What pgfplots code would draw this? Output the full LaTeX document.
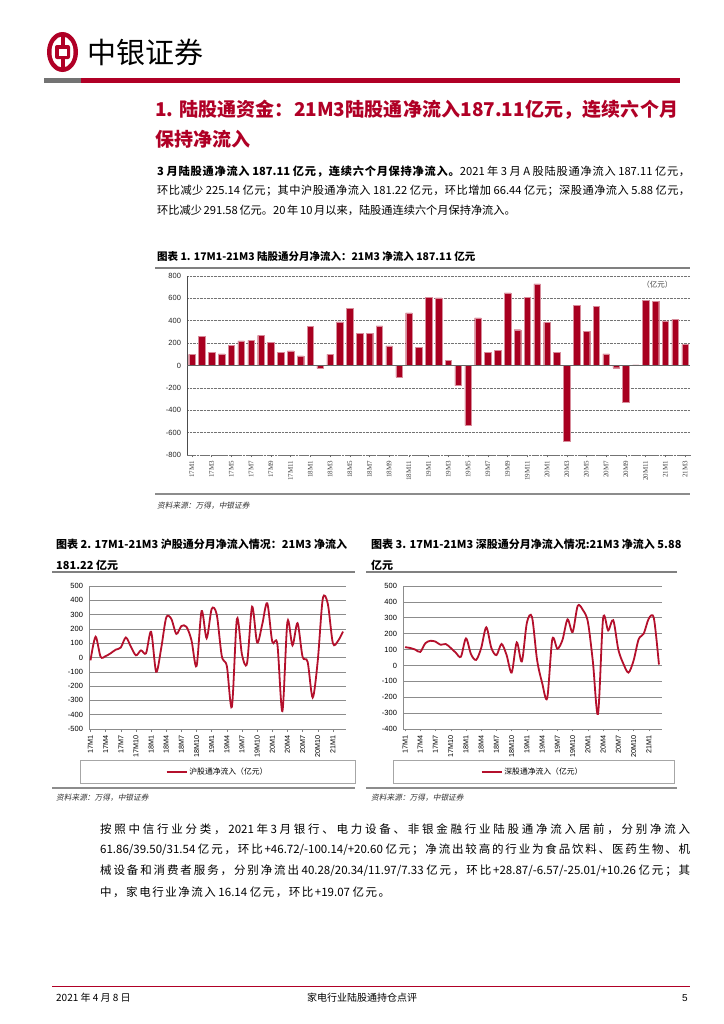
\documentclass[border=0pt]{standalone}
\usepackage{fontspec}
\usepackage{pgfplots}
\usepackage{pgfplotstable}
\pgfplotsset{compat=1.18}
\setmainfont{Noto Sans CJK SC}
\newfontfamily\lib{Liberation Sans}
\newfontfamily\libs{Liberation Serif}
\newfontfamily\cjkit[FakeSlant=0.2]{Noto Sans CJK SC}
\definecolor{bocred}{RGB}{176,0,38}
\definecolor{barred}{RGB}{168,0,32}
\definecolor{linered}{RGB}{180,16,44}
\newcommand\fs[1]{\fontsize{#1bp}{#1bp}\selectfont}
% inter-character stretch glue for CJK justification
\XeTeXinterchartokenstate=1
\newXeTeXintercharclass\cjkcls
\count255="3000
\loop
  \XeTeXcharclass\count255=\cjkcls
  \advance\count255 by 1
\ifnum\count255<"A000 \repeat
\count255="FF00
\loop
  \XeTeXcharclass\count255=\cjkcls
  \advance\count255 by 1
\ifnum\count255<"FFF0 \repeat
\XeTeXinterchartoks\cjkcls\cjkcls={\hskip 0pt plus 1fil\relax}
\XeTeXinterchartoks\cjkcls 0={\hskip 0pt plus 1fil\relax}
\XeTeXinterchartoks 0\cjkcls={\hskip 0pt plus 1fil\relax}
\pgfplotstableread{
i tot sh sz
0 100 -20 115
1 260 145 110
2 115 5 100
3 105 10 85
4 180 30 140
5 220 55 155
6 225 70 150
7 270 140 130
8 210 75 135
9 120 15 110
10 130 50 80
11 85 30 55
12 350 180 170
13 -25 -100 70
14 100 65 35
15 390 280 110
16 510 270 240
17 285 165 110
18 285 220 65
19 355 215 135
20 175 120 65
21 -105 -60 -45
22 470 325 145
23 165 135 25
24 610 340 270
25 605 300 305
26 45 10 35
27 -180 -60 -110
28 -535 -345 -205
29 425 270 165
30 120 20 105
31 135 -40 160
32 650 355 290
33 320 105 210
34 610 230 375
35 730 380 350
36 385 110 275
37 115 95 20
38 -680 -375 -305
39 535 250 295
40 305 85 220
41 530 240 285
42 105 5 100
43 -20 -30 10
44 -330 -280 -45
45 5 -25 30
46 580 410 165
47 575 375 200
48 400 100 295
49 412 115 297
50 187.11 181.22 5.88
}\flows
\begin{document}
\begin{tikzpicture}
\path[use as bounding box, fill=white] (0,0) rectangle (724bp,-1024bp);
\begin{scope}[x=1bp,y=-1bp]
% header logo
\fill[bocred] (62.5,52) ellipse (15.5 and 20);
\fill[white] (62.5,52) ellipse (11 and 15.5);
\fill[bocred] (60.5,33) rectangle (64.5,71);
\fill[bocred, rounded corners=2bp] (55,45) rectangle (70,59);
\fill[white] (58.5,48.5) rectangle (66.5,55.5);
\node[anchor=west, inner sep=0pt, font=\fs{29}] at (87,52) {中银证券};
\fill[black!55] (44,77.5) rectangle (81,82.5);
\fill[bocred] (81,77.5) rectangle (680,82.5);
% heading
\node[anchor=west, inner sep=0pt, text=bocred, font=\fs{19}\bfseries] at (155,110) {\makebox[523bp][s]{1. 陆股通资金：21M3陆股通净流入187.11亿元，连续六个月}};
\node[anchor=west, inner sep=0pt, text=bocred, font=\fs{19}\bfseries] at (155,139) {保持净流入};
% paragraph 1
\node[anchor=west, inner sep=0pt, font=\fs{11.2}] at (157,172) {\makebox[533bp][s]{{\bfseries 3 月陆股通净流入 187.11 亿元，连续六个月保持净流入。}2021 年 3 月 A 股陆股通净流入 187.11 亿元，}};
\node[anchor=west, inner sep=0pt, font=\fs{11.2}] at (157,191) {\makebox[533bp][s]{环比减少 225.14 亿元；其中沪股通净流入 181.22 亿元，环比增加 66.44 亿元；深股通净流入 5.88 亿元，}};
\node[anchor=west, inner sep=0pt, font=\fs{11.2}] at (157,210) {\makebox[342bp][s]{环比减少 291.58 亿元。20 年 10 月以来，陆股通连续六个月保持净流入。}};
% chart 1 title
\node[anchor=west, inner sep=0pt, font=\fs{10.5}\bfseries] at (157,257) {图表 1. 17M1-21M3 陆股通分月净流入：21M3 净流入 187.11 亿元};
\draw[black!50, line width=1.2bp] (155,268) -- (690,268);
\draw[black!45, line width=1.8bp] (155,494) -- (690,494);
\node[anchor=west, inner sep=0pt, font=\fs{7.7}\cjkit, text=black!80] at (157,506) {资料来源：万得，中银证券};
% chart 2/3 titles
\node[anchor=west, inner sep=0pt, font=\fs{11}\bfseries] at (56,544) {图表 2. 17M1-21M3 沪股通分月净流入情况：21M3 净流入};
\node[anchor=west, inner sep=0pt, font=\fs{11}\bfseries] at (56,565) {181.22 亿元};
\draw[black!50, line width=1.2bp] (52,572) -- (355,572);
\node[anchor=west, inner sep=0pt, font=\fs{11}\bfseries] at (371,544) {图表 3. 17M1-21M3 深股通分月净流入情况:21M3 净流入 5.88};
\node[anchor=west, inner sep=0pt, font=\fs{11}\bfseries] at (371,565) {亿元};
\draw[black!50, line width=1.2bp] (366,572) -- (677,572);
% legend boxes
\draw[black!35, line width=0.6bp] (80,760) rectangle (355,783);
\draw[black!35, line width=0.6bp] (393,760) rectangle (674,783);
\draw[black!45, line width=1.8bp] (52,788) -- (355,788);
\draw[black!45, line width=1.8bp] (366,788) -- (677,788);
\node[anchor=west, inner sep=0pt, font=\fs{7.7}\cjkit, text=black!80] at (56,798) {资料来源：万得，中银证券};
\node[anchor=west, inner sep=0pt, font=\fs{7.7}\cjkit, text=black!80] at (371,798) {资料来源：万得，中银证券};
% body paragraph 2
\node[anchor=west, inner sep=0pt, font=\fs{11.5}] at (100,829) {\makebox[590bp][s]{按照中信行业分类，2021 年 3 月银行、电力设备、非银金融行业陆股通净流入居前，分别净流入}};
\node[anchor=west, inner sep=0pt, font=\fs{11.5}] at (100,850) {\makebox[590bp][s]{61.86/39.50/31.54 亿元，环比+46.72/-100.14/+20.60 亿元；净流出较高的行业为食品饮料、医药生物、机}};
\node[anchor=west, inner sep=0pt, font=\fs{11.5}] at (100,871) {\makebox[590bp][s]{械设备和消费者服务，分别净流出 40.28/20.34/11.97/7.33 亿元，环比+28.87/-6.57/-25.01/+10.26 亿元；其}};
\node[anchor=west, inner sep=0pt, font=\fs{11.5}] at (100,892) {\makebox[290bp][s]{中，家电行业净流入 16.14 亿元，环比+19.07 亿元。}};
% footer
\draw[bocred, line width=1bp] (52,986) -- (690,986);
\node[anchor=west, inner sep=0pt, font=\fs{10}] at (56,998) {2021 年 4 月 8 日};
\node[anchor=center, inner sep=0pt, font=\fs{10}] at (362,998) {家电行业陆股通持仓点评};
\node[anchor=east, inner sep=0pt, font=\fs{10}\lib] at (688,998) {5};
\end{scope}

% ---------- chart 1: bars ----------
\begin{axis}[
  at={(187bp,-276bp)}, anchor=north west,
  scale only axis, width=503bp, height=179bp,
  xmin=-0.5, xmax=50.5, ymin=-800, ymax=800,
  ytick={-800,-600,...,800},
  xtick={0,2,...,50},
  xticklabels={17M1,17M3,17M5,17M7,17M9,17M11,18M1,18M3,18M5,18M7,18M9,18M11,19M1,19M3,19M5,19M7,19M9,19M11,20M1,20M3,20M5,20M7,20M9,20M11,21M1,21M3},
  x tick label style={rotate=90, anchor=east, font=\libs\fs{7}, text=black!75},
  y tick label style={font=\lib\fs{7.5}, text=black!85},
  /pgf/number format/assume math mode=true,
  ymajorgrids, grid style={black!55, densely dotted, line width=0.6bp},
  axis x line*=bottom, axis y line*=left,
  axis line style={-},
  x axis line style={black!55, densely dotted, line width=0.6bp},
  y axis line style={black!70, line width=0.6bp},
  ytick style={draw=none},
  xtick style={black!60, line width=0.4bp},
  major tick length=2.5bp, tick align=outside,
  ybar, bar width=6.5bp, bar shift=0pt,
]
\addplot[fill=barred, draw=barred!45, line width=0.3bp] table[x=i, y=tot] {\flows};
\draw[black!60, line width=0.5bp] (axis cs:-0.5,0) -- (axis cs:50.5,0);
\node[font=\fs{7.5}, text=black!75] at (axis cs:47.2,725) {（亿元）};
\end{axis}

% ---------- chart 2: SH ----------
\begin{axis}[
  at={(89bp,-586bp)}, anchor=north west,
  scale only axis, width=257bp, height=143bp,
  xmin=-0.3, xmax=50.6, ymin=-500, ymax=500,
  ytick={-500,-400,...,500},
  xtick={0,3,...,48},
  xticklabels={17M1,17M4,17M7,17M10,18M1,18M4,18M7,18M10,19M1,19M4,19M7,19M10,20M1,20M4,20M7,20M10,21M1},
  x tick label style={rotate=90, anchor=east, font=\lib\fs{7.2}},
  y tick label style={font=\lib\fs{7.5}},
  /pgf/number format/assume math mode=true,
  ymajorgrids, grid style={black!45, line width=0.6bp},
  axis x line*=bottom, axis y line*=left,
  axis line style={-},
  x axis line style={black!45, line width=0.6bp},
  y axis line style={black!45, line width=0.6bp},
  ytick style={draw=none},
  xtick style={black!50, line width=0.4bp},
  major tick length=2.5bp, tick align=outside,
  legend style={at={(0.5,-0.3)}, anchor=center, draw=none, fill=none, font=\fs{7.8}},
  legend image code/.code={\draw[#1] (0bp,0bp) -- (20bp,0bp);},
]
\addplot[linered, line width=1.8bp, smooth, no markers] table[x=i, y=sh] {\flows};
\addlegendentry{沪股通净流入（亿元）}
\end{axis}

% ---------- chart 3: SZ ----------
\begin{axis}[
  at={(403bp,-586bp)}, anchor=north west,
  scale only axis, width=259bp, height=143bp,
  xmin=-0.4, xmax=50.6, ymin=-400, ymax=500,
  ytick={-400,-300,...,500},
  xtick={0,3,...,48},
  xticklabels={17M1,17M4,17M7,17M10,18M1,18M4,18M7,18M10,19M1,19M4,19M7,19M10,20M1,20M4,20M7,20M10,21M1},
  x tick label style={rotate=90, anchor=east, font=\lib\fs{7.2}},
  y tick label style={font=\lib\fs{7.5}},
  /pgf/number format/assume math mode=true,
  ymajorgrids, grid style={black!45, line width=0.6bp},
  axis x line*=bottom, axis y line*=left,
  axis line style={-},
  x axis line style={black!45, line width=0.6bp},
  y axis line style={black!45, line width=0.6bp},
  ytick style={draw=none},
  xtick style={black!50, line width=0.4bp},
  major tick length=2.5bp, tick align=outside,
  legend style={at={(0.5,-0.3)}, anchor=center, draw=none, fill=none, font=\fs{7.8}},
  legend image code/.code={\draw[#1] (0bp,0bp) -- (20bp,0bp);},
]
\addplot[linered, line width=1.8bp, smooth, no markers] table[x=i, y=sz] {\flows};
\addlegendentry{深股通净流入（亿元）}
\end{axis}
\end{tikzpicture}
\end{document}
